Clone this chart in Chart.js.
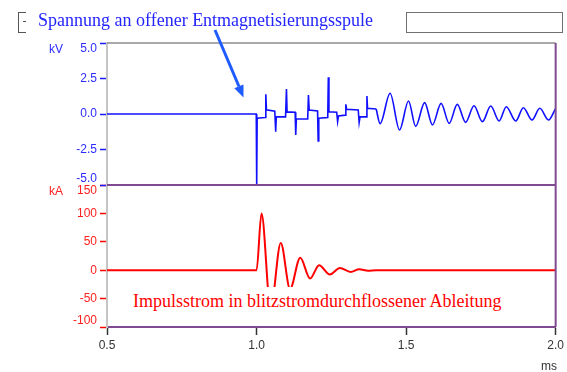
<!DOCTYPE html>
<html>
<head>
<meta charset="utf-8">
<script src="https://cdn.jsdelivr.net/npm/chart.js@4.4.0/dist/chart.umd.min.js"></script>
<style>
  body { margin: 0; background: #fff; }
  #wrap { position: relative; width: 567px; height: 372px; }
  #wrap div, #wrap svg { position: absolute; white-space: nowrap; }
  .serif { font-family: "Liberation Serif", "Times New Roman", serif; font-size: 18px; }
  .sans { font-family: "Liberation Sans", Arial, sans-serif; font-size: 12px; line-height: 12px; }
</style>
</head>
<body>
<div id="wrap">
  <canvas id="myChart" width="567" height="372"></canvas>

  <!-- kleine Rahmen oben -->
  <div style="left:18px;top:12px;width:40px;height:19px;border:1px solid #555;"></div>
  <div style="left:406px;top:12px;width:155px;height:19px;border:1px solid #707070;"></div>
  <div class="serif" style="left:26px;top:11px;line-height:18px;padding:0 6px 4px 12px;background:#fff;color:#2424ff;">Spannung an offener Entmagnetisierungsspule</div>
  <div style="left:23px;top:21px;width:3px;height:1px;background:#555;"></div>

  <svg width="567" height="372" style="left:0;top:0;pointer-events:none;">
    <line x1="215" y1="30" x2="239" y2="86.5" stroke="#1f5cff" stroke-width="3"/>
    <polygon points="234.3,88.3 243.5,97.5 243.5,84.5" fill="#1f5cff"/>
  </svg>

  <div class="sans" style="left:49px;top:43px;color:#2b2bff;">kV</div>
  <div class="sans" style="left:49px;top:185px;color:#ff2020;">kA</div>
  <div class="sans" style="left:541px;top:360px;color:#333;">ms</div>

  <div class="serif" style="left:125px;top:287px;line-height:28px;padding:0 8px;background:#fff;color:#ff0000;">Impulsstrom in blitzstromdurchflossener Ableitung</div>
</div>

<script>
// achsen
const timeTicks = [0.5, 1.0, 1.5, 2.0];
const kvTicks = [-5, -2.5, 0, 2.5, 5];
const kaTicks = [-100, -50, 0, 50, 100, 150];

// Spannung: Spitzen und Stufen (ms / kV)
const uStepTime = [0.5, 0.999, 1.0005, 1.002, 1.029, 1.031, 1.033, 1.061, 1.064, 1.066,
  1.097, 1.100, 1.102, 1.129, 1.131, 1.133, 1.171, 1.1735, 1.176, 1.204,
  1.206, 1.208, 1.238, 1.240, 1.242, 1.268, 1.271, 1.274, 1.296, 1.2985,
  1.301, 1.340, 1.343, 1.346, 1.367, 1.369, 1.371, 1.400];
const uStepKV = [0, 0, -5.0, -0.3, -0.25, 1.39, 0.3, 0.2, -1.25, -0.2,
  -0.2, 1.76, 0.15, 0.12, -1.48, -0.35, -0.35, 1.34, 0.28, 0.22,
  -1.9, -0.3, -0.25, 2.58, 0.16, 0.12, -0.54, -0.14, -0.08, 0.68,
  0.33, 0.28, -0.6, -0.2, -0.2, 1.27, 0.4, 0.35];

// Spannung: Ausschwingen (Maxima / Minima)
const uOscTime = [1.400, 1.413, 1.4465, 1.478, 1.508, 1.532, 1.562, 1.588, 1.617, 1.644,
  1.671, 1.699, 1.727, 1.755, 1.783, 1.811, 1.835, 1.8665, 1.892, 1.921,
  1.947, 1.976, 2.0];
const uOscKV = [0.35, -0.68, 1.46, -1.13, 0.92, -0.87, 0.8, -0.77, 0.75, -0.66,
  0.68, -0.59, 0.58, -0.54, 0.56, -0.49, 0.51, -0.49, 0.44, -0.42,
  0.40, -0.42, 0.4];

// Impulsstrom (ms / kA)
const iTime = [0.5, 1.000, 1.0165, 1.047, 1.081, 1.112, 1.146, 1.179, 1.209, 1.245,
  1.2785, 1.3145, 1.343, 1.373, 1.400, 2.0];
const iKA = [0, 0, 100, -68, 48, -33, 22, -14.6, 8.8, -7.5,
  4, -3, 1.7, -1, 0, 0];

const pts = (xs, ys) => xs.map((x, i) => ({x: x, y: ys[i]}));
const fixTicks = (list) => (scale) => { scale.ticks = list.map(v => ({value: v})); };

// Randbeschriftung nach innen schieben
function edgeLabel(fmt) {
    return (v, i, ticks) => {
        const t = fmt(v);
        if (i === 0) return [t, ''];
        if (i === ticks.length - 1) return ['', t];
        return t;
    };
}

const sans = 'Liberation Sans, Arial, sans-serif';
const purple = '#7f4a8f';

const frame = {
    id: 'frame',
    afterDatasetsDraw(chart) {
        const {ctx, chartArea: a, scales} = chart;
        ctx.save();
        ctx.lineWidth = 1.5;
        ctx.strokeStyle = '#8c8c8c';
        ctx.beginPath(); ctx.moveTo(a.left, a.top); ctx.lineTo(a.right, a.top); ctx.stroke();
        ctx.lineWidth = 2;
        ctx.strokeStyle = purple;
        ctx.beginPath(); ctx.moveTo(a.right, a.top); ctx.lineTo(a.right, a.bottom); ctx.stroke();
        const ySep = scales.yV.bottom;
        ctx.beginPath(); ctx.moveTo(a.left, ySep); ctx.lineTo(a.right, ySep); ctx.stroke();
        ctx.restore();
    }
};

const ctx = document.getElementById('myChart');

new Chart(ctx, {
    type: 'line',
    data: {
        datasets: [
            { data: pts(uStepTime, uStepKV), yAxisID: 'yV', borderColor: '#1010ff', borderWidth: 1.6, tension: 0 },
            { data: pts(uOscTime, uOscKV), yAxisID: 'yV', borderColor: '#1010ff', borderWidth: 1.6, cubicInterpolationMode: 'monotone' },
            { data: pts(iTime, iKA), yAxisID: 'yA', borderColor: '#ff0000', borderWidth: 2, cubicInterpolationMode: 'monotone' }
        ]
    },
    options: {
        responsive: false,
        animation: false,
        devicePixelRatio: 1,
        layout: { padding: { left: 0, right: 10, top: 43, bottom: 0 } },
        plugins: { legend: { display: false }, tooltip: { enabled: false } },
        elements: { point: { radius: 0 } },
        scales: {
            x: {
                type: 'linear', min: 0.5, max: 2.0,
                afterBuildTicks: fixTicks(timeTicks),
                afterFit: s => { s.height = 45; },
                ticks: { color: '#333', font: { family: sans, size: 12 }, padding: 3, maxRotation: 0, autoSkip: false,
                    callback: v => Number(v).toFixed(1) },
                grid: { drawOnChartArea: false, color: '#333', tickLength: 8, tickWidth: 1.5 },
                border: { color: purple, width: 2 }
            },
            yA: {
                type: 'linear', position: 'left', stack: 'panel', stackWeight: 1, min: -100, max: 150,
                afterBuildTicks: fixTicks(kaTicks),
                afterFit: s => { s.width = 107; },
                ticks: { color: '#ff2020', font: { family: sans, size: 12, lineHeight: 1 }, padding: 3, autoSkip: false,
                    callback: edgeLabel(v => String(v)) },
                grid: { drawOnChartArea: false, color: '#ff0000', tickLength: 7, tickWidth: 1.5 },
                border: { color: '#c4c4c4', width: 2 }
            },
            yV: {
                type: 'linear', position: 'left', stack: 'panel', stackWeight: 1, min: -5, max: 5,
                afterBuildTicks: fixTicks(kvTicks),
                afterFit: s => { s.width = 107; },
                ticks: { color: '#2b2bff', font: { family: sans, size: 12, lineHeight: 1 }, padding: 3, autoSkip: false,
                    callback: edgeLabel(v => Number(v).toFixed(1)) },
                grid: { drawOnChartArea: false, color: '#1a1aff', tickLength: 7, tickWidth: 1.5 },
                border: { color: '#c4c4c4', width: 2 }
            }
        }
    },
    plugins: [frame]
});
</script>
</body>
</html>
